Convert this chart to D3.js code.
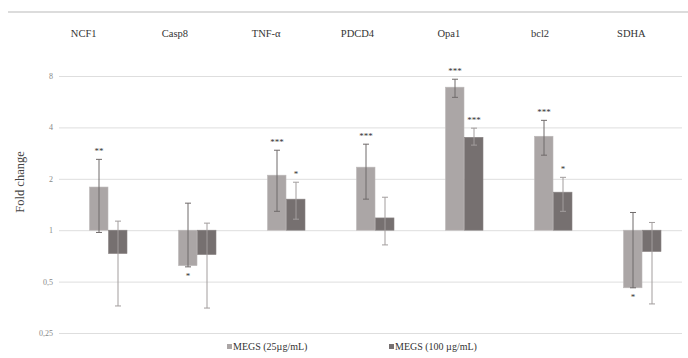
<!DOCTYPE html>
<html lang="en">
<head>
<meta charset="UTF-8">
<title>Fold change</title>
<script src="https://cdn.jsdelivr.net/npm/d3@7"></script>
<style>
    body { margin: 0; background: #fff; }
    text { font-family: "Liberation Serif", "DejaVu Serif", serif; }
</style>
</head>
<body>
<svg width="688" height="358"></svg>
<script>
// data
var genes = ["NCF1", "Casp8", "TNF-\u03b1", "PDCD4", "Opa1", "bcl2", "SDHA"];
var series = ["MEGS (25\u00b5g/mL)", "MEGS (100\u00a0\u00b5g/mL)"];
var low = [1.79, 0.62, 2.10, 2.34, 6.88, 3.55, 0.46];
var lowHi = [2.60, 1.44, 2.94, 3.19, 7.66, 4.40, 1.27];
var lowLo = [0.97, 0.61, 1.29, 1.52, 6.00, 2.75, 0.46];
var lowSig = ["**", "*", "***", "***", "***", "***", "*"];
var high = [0.73, 0.72, 1.52, 1.18, 3.50, 1.67, 0.75];
var highHi = [1.13, 1.10, 1.91, 1.56, 3.96, 2.04, 1.11];
var highLo = [0.36, 0.35, 1.16, 0.82, 3.15, 1.29, 0.37];
var highSig = ["", "", "*", "", "***", "*", ""];
var yTicks = [0.25, 0.5, 1, 2, 4, 8];

var colors = ["#aba6a6", "#767070"];

var svg = d3.select("svg");

// top rule
svg.append("line")
    .attr("x1", 8).attr("x2", 688)
    .attr("y1", 12).attr("y2", 12)
    .attr("stroke", "#dcdcdc").attr("stroke-width", 2);

var y = d3.scaleLog().base(2).domain([0.25, 8]).range([333, 76]);
var x = d3.scaleBand().domain(genes).range([64, 687]);
var xLabel = d3.scaleBand().domain(genes).range([38, 677]);

// gridlines + tick labels
var yAxis = d3.axisLeft(y)
    .tickValues(yTicks)
    .tickSize(-623)
    .tickPadding(6)
    .tickFormat(function (d) { return String(d).replace(".", ","); });
var gy = svg.append("g").attr("transform", "translate(59,0)").call(yAxis);
gy.select(".domain").remove();
gy.selectAll(".tick line").attr("stroke", "#dedede").attr("stroke-width", 1);
gy.selectAll(".tick text")
    .attr("fill", "#888")
    .style("font-size", "8px")
    .style("font-family", "Liberation Serif");

// gene labels on top
svg.selectAll(".gene")
    .data(genes)
    .enter()
    .append("text")
    .attr("class", "gene")
    .attr("x", function (d) { return xLabel(d) + xLabel.bandwidth() / 2; })
    .attr("y", 37)
    .attr("text-anchor", "middle")
    .attr("fill", "#333")
    .style("font-size", "10.5px")
    .text(function (d) { return d; });

// y title
svg.append("text")
    .attr("transform", "translate(24,182) rotate(-90)")
    .attr("text-anchor", "middle")
    .attr("fill", "#444")
    .style("font-size", "12.5px")
    .text("Fold change");

var barW = 19;
var groups = [
    {vals: low, hi: lowHi, lo: lowLo, sig: lowSig, off: -barW},
    {vals: high, hi: highHi, lo: highLo, sig: highSig, off: 0}
];

groups.forEach(function (g, s) {
    var rows = genes.map(function (name, i) {
        return {name: name, v: g.vals[i], hi: g.hi[i], lo: g.lo[i], sig: g.sig[i]};
    });
    var cx = function (d) { return x(d.name) + x.bandwidth() / 2 + g.off; };

    svg.append("g").selectAll("rect")
        .data(rows)
        .enter()
        .append("rect")
        .attr("x", function (d) { return cx(d); })
        .attr("width", barW - 0.5)
        .attr("y", function (d) { return Math.min(y(d.v), y(1)); })
        .attr("height", function (d) { return Math.abs(y(d.v) - y(1)); })
        .attr("fill", colors[s])
        .attr("stroke", s === 0 ? "#bdb9b9" : "#8a8484")
        .attr("stroke-width", 0.6);

    var eb = svg.append("g").selectAll("g")
        .data(rows)
        .enter()
        .append("g")
        .attr("stroke", s === 0 ? "#6f6a6a" : "#a29d9d")
        .attr("stroke-width", 1);
    eb.append("line")
        .attr("x1", function (d) { return cx(d) + barW / 2; })
        .attr("x2", function (d) { return cx(d) + barW / 2; })
        .attr("y1", function (d) { return y(d.hi); })
        .attr("y2", function (d) { return y(d.lo); });
    eb.append("line")
        .attr("x1", function (d) { return cx(d) + barW / 2 - 3; })
        .attr("x2", function (d) { return cx(d) + barW / 2 + 3; })
        .attr("y1", function (d) { return y(d.hi); })
        .attr("y2", function (d) { return y(d.hi); });
    eb.append("line")
        .attr("x1", function (d) { return cx(d) + barW / 2 - 3; })
        .attr("x2", function (d) { return cx(d) + barW / 2 + 3; })
        .attr("y1", function (d) { return y(d.lo); })
        .attr("y2", function (d) { return y(d.lo); });

    svg.append("g").selectAll("text")
        .data(rows.filter(function (d) { return d.sig; }))
        .enter()
        .append("text")
        .attr("x", function (d) { return cx(d) + barW / 2; })
        .attr("y", function (d) {
            return d.v >= 1 ? y(d.hi) - 5 : y(d.lo) + 12;
        })
        .attr("text-anchor", "middle")
        .attr("fill", "#333")
        .style("font-size", "9px")
        .text(function (d) { return d.sig; });
});

// legend
var legX = [227, 389];
var leg = svg.append("g").selectAll("g")
    .data(series)
    .enter()
    .append("g")
    .attr("transform", function (d, i) { return "translate(" + legX[i] + ",350)"; });
leg.append("rect")
    .attr("x", 0).attr("y", -6)
    .attr("width", 5).attr("height", 5)
    .attr("fill", function (d, i) { return colors[i]; });
leg.append("text")
    .attr("x", 6).attr("y", 0)
    .attr("fill", "#333")
    .style("font-size", "10px")
    .text(function (d) { return d; });
</script>
</body>
</html>
